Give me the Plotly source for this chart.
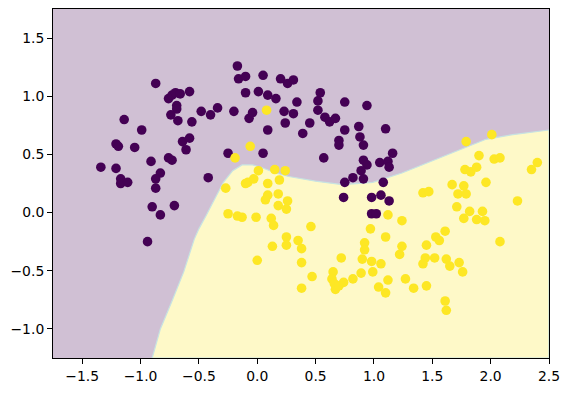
import plotly.graph_objects as go

# class 0 (purple) points
purple_x = [-0.87, -0.76, -0.73, -0.70, -0.66, -0.58, -0.69, -0.69, -0.74, -0.68,
            -0.56, -0.48, -0.40, -0.34, -1.14, -0.99, -0.17, -0.16, -0.10, 0.05,
            0.20, 0.26, 0.31, -0.10, 0.01, 0.09, 0.16, 0.34, 0.52, 0.54,
            0.75, 0.94, -0.20, -0.07, -0.04, 0.23, 0.31, 0.24, 0.09, 0.45,
            0.52, 0.58, 0.62, 0.67, 0.75, 0.87, 1.10, -1.21, -1.19, -1.05,
            -0.64, -0.58, -0.61, -1.34, -1.21, -1.17, -1.17, -1.11, -0.91, -0.76,
            -0.73, -0.83, -0.87, -0.87, -0.42, -0.90, -0.83, -0.71, -0.94, 0.39,
            0.70, 0.70, 0.88, 0.91, -0.25, 0.05, 0.57, 0.91, 0.94, 1.05,
            0.89, 0.91, 0.82, 0.75, 0.74, 0.98, 0.98, 1.02, 1.16, 1.12,
            1.13, 1.08, 1.06, 1.13]
purple_y = [1.11, 0.98, 1.01, 1.03, 1.02, 1.04, 0.92, 0.89, 0.84, 0.79,
            0.78, 0.87, 0.84, 0.90, 0.80, 0.71, 1.26, 1.15, 1.17, 1.18,
            1.15, 1.11, 1.14, 1.03, 1.04, 1.01, 0.98, 0.95, 0.96, 1.03,
            0.95, 0.92, 0.87, 0.81, 0.86, 0.87, 0.85, 0.77, 0.71, 0.77,
            0.88, 0.82, 0.78, 0.81, 0.71, 0.74, 0.72, 0.59, 0.57, 0.56,
            0.61, 0.64, 0.54, 0.39, 0.38, 0.29, 0.25, 0.26, 0.44, 0.47,
            0.45, 0.34, 0.29, 0.21, 0.30, 0.05, -0.02, 0.06, -0.25, 0.68,
            0.62, 0.58, 0.65, 0.58, 0.51, 0.51, 0.47, 0.45, 0.41, 0.43,
            0.36, 0.29, 0.30, 0.26, 0.13, 0.13, -0.01, -0.01, 0.51, 0.44,
            0.39, 0.26, 0.15, 0.10]

# class 1 (yellow) points
yellow_x = [0.08, -0.06, -0.19, 0.01, 0.15, 0.24, -0.10, -0.08, -0.03, 0.09,
            0.19, -0.27, 0.18, 0.09, 0.07, 0.26, 0.18, 0.25, -0.25, -0.17,
            -0.13, -0.01, 0.12, 0.14, 0.46, 0.97, 0.25, 0.35, 0.13, 0.25,
            0.38, 0.92, 2.01, 1.79, 1.90, 2.03, 2.08, 2.40, 2.35, 1.78,
            1.83, 1.88, 1.67, 1.77, 1.96, 1.42, 1.47, 1.72, 1.79, 2.23,
            1.71, 1.82, 1.93, 1.77, 1.88, 1.95, 1.12, 1.24, 1.61, 1.53,
            1.56, 1.10, 1.24, 1.45, 2.08, 0.38, 0.00, 0.47, 0.38, 0.72,
            0.90, 0.92, 0.98, 0.99, 0.89, 0.82, 0.74, 0.65, 0.64, 0.66,
            0.67, 0.70, 1.04, 1.22, 1.06, 1.12, 1.10, 1.27, 1.34, 1.45,
            1.44, 1.42, 1.52, 1.62, 1.65, 1.73, 1.76, 1.61, 1.62]
yellow_y = [0.88, 0.57, 0.47, 0.36, 0.37, 0.36, 0.25, 0.26, 0.29, 0.25,
            0.28, 0.21, 0.16, 0.15, 0.11, 0.10, 0.06, 0.03, -0.01, -0.03,
            -0.04, -0.04, -0.05, -0.11, -0.12, -0.14, -0.21, -0.24, -0.29, -0.28,
            -0.31, -0.26, 0.67, 0.61, 0.49, 0.46, 0.47, 0.43, 0.37, 0.37,
            0.35, 0.39, 0.24, 0.23, 0.26, 0.17, 0.18, 0.16, 0.16, 0.10,
            0.05, 0.01, 0.01, -0.05, -0.06, -0.07, -0.02, -0.07, -0.16, -0.21,
            -0.24, -0.21, -0.29, -0.28, -0.25, -0.43, -0.41, -0.55, -0.65, -0.39,
            -0.40, -0.32, -0.42, -0.51, -0.52, -0.57, -0.60, -0.51, -0.57, -0.61,
            -0.66, -0.63, -0.64, -0.36, -0.44, -0.58, -0.69, -0.57, -0.65, -0.63,
            -0.39, -0.44, -0.39, -0.40, -0.46, -0.43, -0.51, -0.76, -0.84]

# decision boundary (left/bottom to right edge)
boundary_x = [-0.90, -0.83, -0.73, -0.63, -0.54, -0.50, -0.44, -0.37, -0.29, -0.21,
              -0.13, -0.04, 0.03, 0.16, 0.27, 0.50, 0.73, 0.99, 1.24, 1.39,
              1.67, 1.96, 2.19, 2.50]
boundary_y = [-1.25, -1.00, -0.76, -0.51, -0.23, -0.14, -0.03, 0.11, 0.26, 0.36,
              0.41, 0.41, 0.39, 0.34, 0.31, 0.27, 0.24, 0.26, 0.34, 0.40,
              0.51, 0.63, 0.67, 0.71]

x_range = [-1.75, 2.5]
y_range = [-1.25, 1.75]
x_tickvals = [-1.5, -1.0, -0.5, 0.0, 0.5, 1.0, 1.5, 2.0, 2.5]
x_ticktext = ["\u22121.5", "\u22121.0", "\u22120.5", "0.0", "0.5", "1.0", "1.5", "2.0", "2.5"]
y_tickvals = [-1.0, -0.5, 0.0, 0.5, 1.0, 1.5]
y_ticktext = ["\u22121.0", "\u22120.5", "0.0", "0.5", "1.0", "1.5"]

PURPLE = "#440154"
YELLOW = "#fde725"
PURPLE_BG = "#d0c0d4"
YELLOW_BG = "#fef9c8"
EDGE = "#c7e3e2"

fig = go.Figure()

# purple region (above/left of boundary)
fig.add_trace(go.Scatter(
    x=[x_range[0], x_range[0]] + boundary_x + [x_range[1], x_range[0]],
    y=[y_range[1], y_range[0]] + boundary_y + [y_range[1], y_range[1]],
    fill="toself", fillcolor=PURPLE_BG, line=dict(width=0), mode="lines",
    hoverinfo="skip", showlegend=False))

# yellow region (below/right of boundary)
fig.add_trace(go.Scatter(
    x=boundary_x + [x_range[1], boundary_x[0]],
    y=boundary_y + [y_range[0], y_range[0]],
    fill="toself", fillcolor=YELLOW_BG, line=dict(width=1.2, color=EDGE),
    mode="lines", hoverinfo="skip", showlegend=False))

fig.add_trace(go.Scatter(x=purple_x, y=purple_y, mode="markers",
                         marker=dict(color=PURPLE, size=9.6, line=dict(width=0)),
                         showlegend=False))
fig.add_trace(go.Scatter(x=yellow_x, y=yellow_y, mode="markers",
                         marker=dict(color=YELLOW, size=9.6, line=dict(width=0)),
                         showlegend=False))

axis_common = dict(showgrid=False, zeroline=False, showline=True, linecolor="black",
                   linewidth=1, mirror=True, ticks="outside", ticklen=5, tickwidth=1,
                   tickcolor="black", automargin=False,
                   tickfont=dict(family="DejaVu Sans", size=13.9, color="black"))

fig.update_xaxes(range=x_range, tickvals=x_tickvals, ticktext=x_ticktext, **axis_common)
fig.update_yaxes(range=y_range, tickvals=y_tickvals, ticktext=y_ticktext, **axis_common)

# page body has an 8px default margin; keep the whole figure inside the window
fig.update_layout(width=554, height=377,
                  margin=dict(l=45, r=13, t=1, b=27, autoexpand=False),
                  paper_bgcolor="white", plot_bgcolor=PURPLE_BG)

fig.write_html("out.html")
